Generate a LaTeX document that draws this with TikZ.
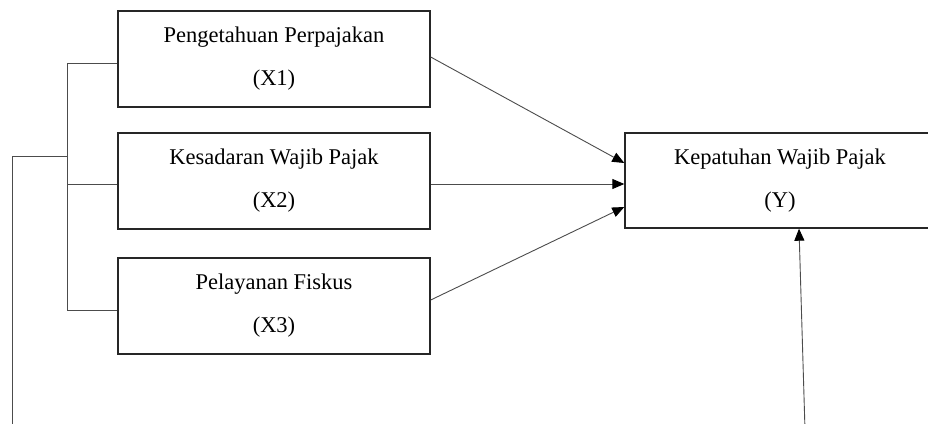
\documentclass[tikz,border=0pt]{standalone}
\usepackage{fontspec}
\setmainfont{Liberation Serif}
\usetikzlibrary{arrows.meta}
\begin{document}
\begin{tikzpicture}[x=1pt,y=-1pt,
  varbox/.style={draw=black!85,line width=1.4pt,minimum width=312pt,minimum height=96pt,inner sep=0pt,align=center,
    font=\fontsize{22.5}{43}\selectfont},
  conn/.style={draw=black!70,line width=0.9pt},
  arr/.style={conn,-{Triangle[length=12pt,width=10pt,color=black]}}]
\useasboundingbox (0,0) rectangle (928,423);
\clip (0,0) rectangle (928,423);
\fill[white] (0,0) rectangle (928,423);
\node[varbox] (x1) at (274,59) {Pengetahuan Perpajakan\\(X1)};
\node[varbox] (x2) at (274,181) {Kesadaran Wajib Pajak\\(X2)};
\node[varbox] (x3) at (274,306) {Pelayanan Fiskus\\(X3)};
\node[varbox,minimum width=310pt,minimum height=95pt] (y) at (780,180.5) {Kepatuhan Wajib Pajak\\(Y)};
% arrows into Y
\draw[arr] ([yshift=2pt]x1.east) -- ([yshift=17.5pt]y.west);
\draw[arr] ([yshift=-3pt]x2.east) -- ([yshift=-3.5pt]y.west);
\draw[arr] ([yshift=6pt]x3.east) -- ([yshift=-26.5pt]y.west);
% left bracket
\draw[conn] ([yshift=-4pt]x1.west) -- ++(-50,0) coordinate (bt) |- ([yshift=-4pt]x3.west);
\draw[conn] ([yshift=-3pt]x2.west) -- ++(-50,0);
\coordinate (j) at (68,156);
\coordinate (lb) at (12,430);
\draw[conn] (j) -| (lb);
% bottom arrow
\coordinate (src) at (805,430);
\draw[arr] (src) -- ([xshift=19pt]y.south);
\end{tikzpicture}
\end{document}
